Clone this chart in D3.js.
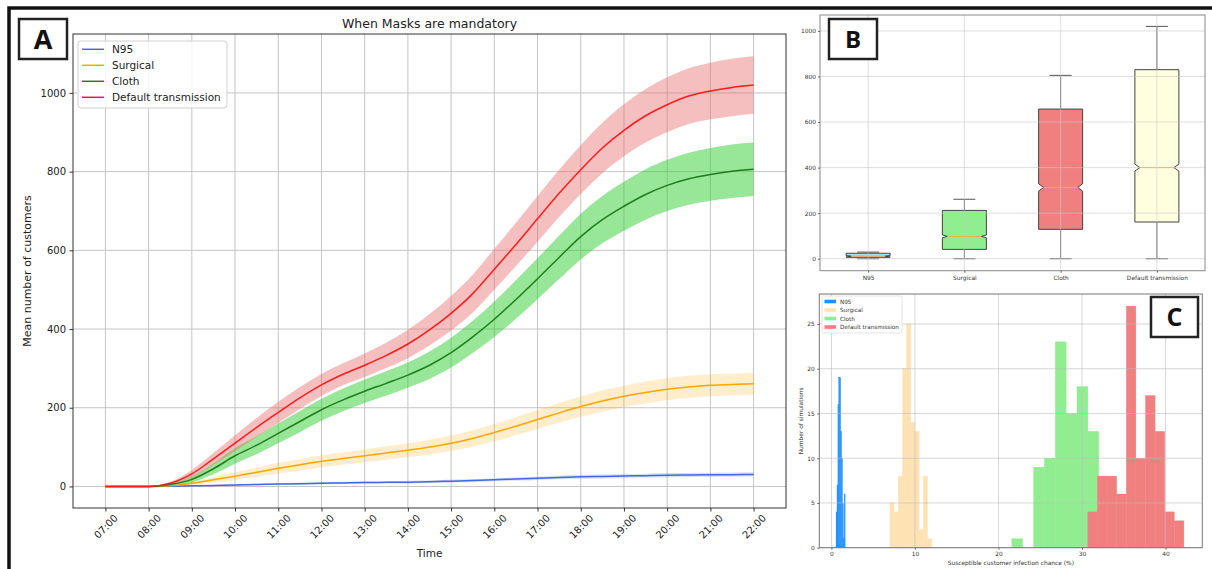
<!DOCTYPE html>
<html><head><meta charset="utf-8">
<script src="https://cdn.jsdelivr.net/npm/d3@7"></script>
<style>body{margin:0;background:#fff;} svg{display:block;font-family:"DejaVu Sans",sans-serif;}</style>
</head><body>
<svg id="chart" width="1212" height="569"></svg>
<script>
// ---------- Panel A data ----------
const hours = [7,7.5,8,8.5,9,9.5,10,10.5,11,11.5,12,12.5,13,13.5,14,14.5,15,15.5,16,16.5,17,17.5,18,18.5,19,19.5,20,20.5,21,21.5,22];
const hourTicks = [7,8,9,10,11,12,13,14,15,16,17,18,19,20,21,22];
const hourLabels = ["07:00","08:00","09:00","10:00","11:00","12:00","13:00","14:00","15:00","16:00","17:00","18:00","19:00","20:00","21:00","22:00"];
const yTicksA = [0,200,400,600,800,1000];
const seriesNames = ["N95","Surgical","Cloth","Default transmission"];
const n95Mean = [0,0,0,0.5,1.5,2.5,4,5,6,7,8,9,10,10.5,11,12,13.5,15,17,19,21,23,24.5,25.5,26.5,27.5,28.5,29,29.5,30,30.5];
const n95Band = [0,0,0,0.5,1,1.5,2,2,2.5,2.5,3,3,3,3,3.5,3.5,4,4,4,4.5,4.5,5,5,5,5,5,5.5,5.5,5.5,5.5,5.5];
const surgicalMean = [0,0,0,2,8,17,26,36,46,55,64,71,78,85,92,100,110,122,137,153,170,187,203,217,229,239,247,253,257,259,261];
const surgicalBand = [0,0,0,1,4,7,10,12,14,15,15,16,16,17,18,19,20,21,22,23,24,25,26,27,27,28,28,28,28,28,28];
const clothMean = [0,0,0,5,18,45,78,105,135,165,195,220,242,262,283,308,340,380,425,475,528,582,635,678,712,742,765,782,793,801,806];
const clothBand = [0,0,0,3,8,14,20,23,25,27,28,29,30,31,32,35,38,41,45,49,52,55,58,60,62,64,65,66,67,68,68];
const defaultMean = [0,0,0,8,32,70,110,150,188,225,258,285,308,333,362,398,440,490,552,615,680,745,805,860,905,942,970,992,1005,1014,1020];
const defaultBand = [0,0,0,4,10,15,20,24,27,28,28,28,30,32,36,40,44,48,52,55,58,60,62,64,66,68,70,71,72,73,73];

// ---------- Panel B data ----------
const boxCategories = ["N95","Surgical","Cloth","Default transmission"];
const boxMin = [0,0,0,0];
const boxQ1 = [6,41,129,161];
const boxMedian = [11,98,313,400];
const boxQ3 = [24,212,657,830];
const boxMax = [29,261,805,1020];
const boxNotch = [3,6,16,15];
const yTicksB = [0,200,400,600,800,1000];

// ---------- Panel C data ----------
const n95Edges = [0.56,0.67,0.78,0.88,0.99,1.10,1.21,1.32,1.42,1.53,1.64];
const n95Counts = [4,7,16,19,19,13,10,5,1,6];
const surgicalEdges = [7.0,7.5,8.0,8.5,9.0,9.5,10.0,10.5,11.0,11.5,12.0];
const surgicalCounts = [5,4,8,20,25,14,13,2,8,1];
const clothEdges = [21.6,22.9,24.2,25.5,26.8,28.1,29.4,30.7,32.0];
const clothCounts = [1,0,9,10,23,15,18,13];
const defaultEdges = [30.7,31.85,33.0,34.15,35.3,36.45,37.6,38.75,39.9,41.05,42.2];
const defaultCounts = [4,8,8,6,27,10,17,13,4,3];
const xTicksC = [0,10,20,30,40];
const yTicksC = [0,5,10,15,20,25];

const svg = d3.select("#chart");

// ================= PANEL A =================
const A = {l:73, r:786, t:34, b:508};
const xA = d3.scaleLinear().domain([6.25,22.75]).range([A.l,A.r]);
const yA = d3.scaleLinear().domain([-54.75,1149.75]).range([A.b,A.t]);
const gA = svg.append("g");
// grid
gA.append("g").selectAll("line").data(hourTicks).join("line")
  .attr("x1",d=>xA(d)).attr("x2",d=>xA(d)).attr("y1",A.t).attr("y2",A.b)
  .attr("stroke","#c4c4c4").attr("stroke-width",1);
gA.append("g").selectAll("line").data(yTicksA).join("line")
  .attr("x1",A.l).attr("x2",A.r).attr("y1",d=>yA(d)).attr("y2",d=>yA(d))
  .attr("stroke","#c4c4c4").attr("stroke-width",1);

const seriesA = [
  {name:"N95", mean:n95Mean, band:n95Band, line:"#4169e1", fill:"#4169e1", op:0.2},
  {name:"Surgical", mean:surgicalMean, band:surgicalBand, line:"#ffa500", fill:"#ffa500", op:0.2},
  {name:"Cloth", mean:clothMean, band:clothBand, line:"#1e7d1e", fill:"#32cd32", op:0.5},
  {name:"Default transmission", mean:defaultMean, band:defaultBand, line:"#ff1a1a", fill:"#ec7070", op:0.45}
];
const area = d3.area().x(d=>xA(d.h)).y0(d=>yA(d.m-d.s)).y1(d=>yA(d.m+d.s)).curve(d3.curveMonotoneX);
const line = d3.line().x(d=>xA(d.h)).y(d=>yA(d.m)).curve(d3.curveMonotoneX);
seriesA.forEach(s=>{
  const pts = hours.map((h,i)=>({h, m:s.mean[i], s:s.band[i]}));
  s.pts = pts;
  gA.append("path").datum(pts).attr("d",area).attr("fill",s.fill).attr("fill-opacity",s.op).attr("stroke","none");
});
seriesA.forEach(s=>{
  gA.append("path").datum(s.pts).attr("d",line).attr("fill","none").attr("stroke",s.line).attr("stroke-width",1.5);
});
// spines
gA.append("rect").attr("x",A.l).attr("y",A.t).attr("width",A.r-A.l).attr("height",A.b-A.t)
  .attr("fill","none").attr("stroke","#333").attr("stroke-width",1);
// y ticks
const yAx = gA.append("g").attr("transform",`translate(${A.l},0)`)
  .call(d3.axisLeft(yA).tickValues(yTicksA).tickSize(3.5).tickPadding(3.5).tickFormat(d3.format("d")));
yAx.select(".domain").remove();
yAx.selectAll("line").attr("stroke","#333");
yAx.selectAll("text").attr("font-size",10).attr("fill","#222").attr("font-family","DejaVu Sans");
// x ticks
const xAx = gA.append("g").attr("transform",`translate(0,${A.b})`)
  .call(d3.axisBottom(xA).tickValues(hourTicks).tickSize(3.5).tickFormat((d,i)=>hourLabels[i]));
xAx.select(".domain").remove();
xAx.selectAll("line").attr("stroke","#333");
xAx.selectAll("text").attr("font-size",10).attr("fill","#222").attr("font-family","DejaVu Sans")
  .attr("text-anchor","middle").attr("dominant-baseline","central")
  .attr("transform","translate(0,18.5) rotate(-45)").attr("y",0).attr("dy",0);
// title and labels
gA.append("text").attr("x",(A.l+A.r)/2).attr("y",28).attr("text-anchor","middle")
  .attr("font-size",12.5).attr("fill","#222").text("When Masks are mandatory");
gA.append("text").attr("x",(A.l+A.r)/2).attr("y",557).attr("text-anchor","middle")
  .attr("font-size",10.5).attr("fill","#222").text("Time");
gA.append("text").attr("transform",`translate(31,${(A.t+A.b)/2}) rotate(-90)`).attr("text-anchor","middle")
  .attr("font-size",11).attr("fill","#222").text("Mean number of customers");
// legend
const legA = gA.append("g");
legA.append("rect").attr("x",78).attr("y",41).attr("width",149).attr("height",67).attr("rx",3)
  .attr("fill","#fff").attr("fill-opacity",0.85).attr("stroke","#d0d0d0");
seriesA.forEach((s,i)=>{
  const y = 49.3 + i*16;
  legA.append("line").attr("x1",82).attr("x2",104).attr("y1",y).attr("y2",y).attr("stroke",s.line).attr("stroke-width",1.5);
  legA.append("text").attr("x",112).attr("y",y).attr("dy","0.36em").attr("font-size",10.5).attr("fill","#222").text(seriesNames[i]);
});

// ================= PANEL B =================
const B = {l:820, r:1205, t:15, b:270.7};
const xB = d3.scaleLinear().domain([0.5,4.5]).range([B.l,B.r]);
const yB = d3.scaleLinear().domain([-52.7,1070]).range([B.b,B.t]);
const gB = svg.append("g");
const boxColors = ["#add8e6","#90ee90","#f08080","#ffffe0"];
const boxW = 44, inset = 5;
boxCategories.forEach((c,i)=>{
  const cx = xB(i+1), hw = boxW/2;
  const y1 = yB(boxQ1[i]), y3 = yB(boxQ3[i]), ym = yB(boxMedian[i]);
  const nlo = yB(boxMedian[i]-boxNotch[i]), nhi = yB(boxMedian[i]+boxNotch[i]);
  // whiskers
  gB.append("line").attr("x1",cx).attr("x2",cx).attr("y1",y3).attr("y2",yB(boxMax[i])).attr("stroke","#555").attr("stroke-width",1);
  gB.append("line").attr("x1",cx).attr("x2",cx).attr("y1",y1).attr("y2",yB(boxMin[i])).attr("stroke","#555").attr("stroke-width",1);
  gB.append("line").attr("x1",cx-hw/2).attr("x2",cx+hw/2).attr("y1",yB(boxMax[i])).attr("y2",yB(boxMax[i])).attr("stroke","#555").attr("stroke-width",1);
  gB.append("line").attr("x1",cx-hw/2).attr("x2",cx+hw/2).attr("y1",yB(boxMin[i])).attr("y2",yB(boxMin[i])).attr("stroke","#555").attr("stroke-width",1);
  const p = `M${cx-hw},${y1}L${cx-hw},${nlo}L${cx-hw+inset},${ym}L${cx-hw},${nhi}L${cx-hw},${y3}L${cx+hw},${y3}L${cx+hw},${nhi}L${cx+hw-inset},${ym}L${cx+hw},${nlo}L${cx+hw},${y1}Z`;
  gB.append("path").attr("d",p).attr("fill",boxColors[i]).attr("stroke","#444").attr("stroke-width",1);
  gB.append("line").attr("x1",cx-hw+inset).attr("x2",cx+hw-inset).attr("y1",ym).attr("y2",ym).attr("stroke","#ffa64d").attr("stroke-width",1);
});
// grid on top (light)
gB.append("g").selectAll("line").data(yTicksB).join("line")
  .attr("x1",B.l).attr("x2",B.r).attr("y1",d=>yB(d)).attr("y2",d=>yB(d))
  .attr("stroke","#c8c8c8").attr("stroke-opacity",0.6).attr("stroke-width",1);
gB.append("g").selectAll("line").data([1,2,3,4]).join("line")
  .attr("x1",d=>xB(d)).attr("x2",d=>xB(d)).attr("y1",B.t).attr("y2",B.b)
  .attr("stroke","#c8c8c8").attr("stroke-opacity",0.6).attr("stroke-width",1);
gB.append("rect").attr("x",B.l).attr("y",B.t).attr("width",B.r-B.l).attr("height",B.b-B.t)
  .attr("fill","none").attr("stroke","#888").attr("stroke-width",1);
const yBx = gB.append("g").attr("transform",`translate(${B.l},0)`)
  .call(d3.axisLeft(yB).tickValues(yTicksB).tickSize(2).tickPadding(2).tickFormat(d3.format("d")));
yBx.select(".domain").remove();
yBx.selectAll("line").attr("stroke","#666");
yBx.selectAll("text").attr("font-size",5.9).attr("fill","#333").attr("font-family","DejaVu Sans");
const xBx = gB.append("g").attr("transform",`translate(0,${B.b})`)
  .call(d3.axisBottom(xB).tickValues([1,2,3,4]).tickSize(2).tickPadding(3).tickFormat((d,i)=>boxCategories[i]));
xBx.select(".domain").remove();
xBx.selectAll("line").attr("stroke","#666");
xBx.selectAll("text").attr("font-size",5.9).attr("fill","#333").attr("font-family","DejaVu Sans");

// ================= PANEL C =================
const C = {l:819.3, r:1202.3, t:294, b:547.7};
const xC = d3.scaleLinear().domain([-1.45,44.4]).range([C.l,C.r]);
const yC = d3.scaleLinear().domain([0,28.35]).range([C.b,C.t]);
const gC = svg.append("g");
const histSeries = [
  {name:"N95", edges:n95Edges, counts:n95Counts, color:"#1e90ff"},
  {name:"Surgical", edges:surgicalEdges, counts:surgicalCounts, color:"#ffe2b3"},
  {name:"Cloth", edges:clothEdges, counts:clothCounts, color:"#90ee90"},
  {name:"Default transmission", edges:defaultEdges, counts:defaultCounts, color:"#f08080"}
];
histSeries.forEach(s=>{
  const bins = s.counts.map((c,i)=>({x0:s.edges[i], x1:s.edges[i+1], c}));
  gC.append("g").selectAll("rect").data(bins.filter(b=>b.c>0)).join("rect")
    .attr("x",d=>xC(d.x0)).attr("width",d=>xC(d.x1)-xC(d.x0))
    .attr("y",d=>yC(d.c)).attr("height",d=>yC(0)-yC(d.c))
    .attr("fill",s.color).attr("stroke",s.color).attr("stroke-width",0.4);
});
gC.append("g").selectAll("line").data(yTicksC).join("line")
  .attr("x1",C.l).attr("x2",C.r).attr("y1",d=>yC(d)).attr("y2",d=>yC(d))
  .attr("stroke","#bbb").attr("stroke-opacity",0.6).attr("stroke-width",1);
gC.append("g").selectAll("line").data(xTicksC).join("line")
  .attr("x1",d=>xC(d)).attr("x2",d=>xC(d)).attr("y1",C.t).attr("y2",C.b)
  .attr("stroke","#bbb").attr("stroke-opacity",0.6).attr("stroke-width",1);
gC.append("rect").attr("x",C.l).attr("y",C.t).attr("width",C.r-C.l).attr("height",C.b-C.t)
  .attr("fill","none").attr("stroke","#777").attr("stroke-width",1);
const yCx = gC.append("g").attr("transform",`translate(${C.l},0)`)
  .call(d3.axisLeft(yC).tickValues(yTicksC).tickSize(2).tickPadding(2.5).tickFormat(d3.format("d")));
yCx.select(".domain").remove();
yCx.selectAll("line").attr("stroke","#666");
yCx.selectAll("text").attr("font-size",5.9).attr("fill","#333").attr("font-family","DejaVu Sans");
const xCx = gC.append("g").attr("transform",`translate(0,${C.b})`)
  .call(d3.axisBottom(xC).tickValues(xTicksC).tickSize(2).tickPadding(2.5).tickFormat(d3.format("d")));
xCx.select(".domain").remove();
xCx.selectAll("line").attr("stroke","#666");
xCx.selectAll("text").attr("font-size",5.9).attr("fill","#333").attr("font-family","DejaVu Sans");
gC.append("text").attr("x",(C.l+C.r)/2).attr("y",564.5).attr("text-anchor","middle")
  .attr("font-size",5.9).attr("fill","#333").text("Susceptible customer infection chance (%)");
gC.append("text").attr("transform",`translate(803,${(C.t+C.b)/2}) rotate(-90)`).attr("text-anchor","middle")
  .attr("font-size",5.9).attr("fill","#333").text("Number of simulations");
// legend C
const legC = gC.append("g");
legC.append("rect").attr("x",822).attr("y",296).attr("width",80).attr("height",37).attr("rx",1.5)
  .attr("fill","#fff").attr("fill-opacity",0.85).attr("stroke","#ddd").attr("stroke-width",0.8);
histSeries.forEach((s,i)=>{
  const y = 301.5 + i*8.5;
  legC.append("rect").attr("x",824.5).attr("y",y-1.8).attr("width",11.5).attr("height",3.6).attr("fill",s.color);
  legC.append("text").attr("x",840).attr("y",y).attr("dy","0.36em").attr("font-size",5.7).attr("fill","#333").text(s.name);
});

// ================= Frame & panel letters =================
svg.append("path").attr("d","M9,569L9,8L1212,8").attr("fill","none").attr("stroke","#111").attr("stroke-width",3.5);
const letters = [{t:"A",x:19,y:19,w:48,h:40,fs:27},{t:"B",x:829,y:19,w:48,h:40,fs:24},{t:"C",x:1151,y:297,w:47,h:40,fs:25}];
letters.forEach(L=>{
  svg.append("rect").attr("x",L.x).attr("y",L.y).attr("width",L.w).attr("height",L.h)
    .attr("fill","#fff").attr("stroke","#222").attr("stroke-width",2.5);
  svg.append("text").attr("x",L.x+L.w/2).attr("y",L.y+L.h/2).attr("dy","0.36em").attr("text-anchor","middle")
    .attr("font-family","'Open Sans',sans-serif").attr("font-weight",700).attr("font-size",L.fs).attr("fill","#111").text(L.t);
});
</script>
</body></html>
